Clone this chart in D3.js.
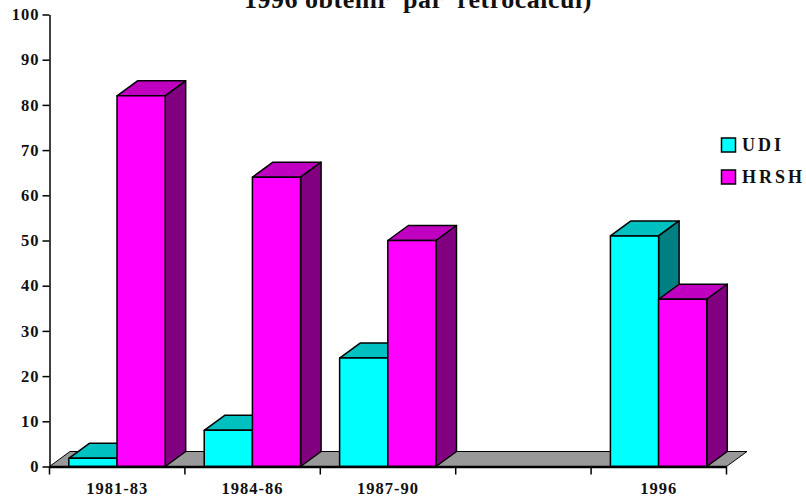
<!DOCTYPE html>
<html>
<head>
<meta charset="utf-8">
<script src="https://cdn.jsdelivr.net/npm/d3@7"></script>
<style>
  html, body { margin: 0; padding: 0; background: #fff; }
  text { font-family: "Liberation Serif", serif; font-weight: bold; fill: #111; }
  .axis path, .axis line { stroke: #000; stroke-width: 1.5; }
  .axis text { font-size: 16.5px; letter-spacing: 1px; font-family: "Liberation Serif", serif; }
</style>
</head>
<body>
<div class="chart"></div>
<script>
var categories = ['1981-83', '1984-86', '1987-90', '', '1996'];
var seriesNames = ['UDI', 'HRSH'];
var udiValues = [1.8, 8, 24, null, 51];
var hrshValues = [82, 64, 50, null, 37];
var yTicks = [0, 10, 20, 30, 40, 50, 60, 70, 80, 90, 100];
var titleText = '1996 obtenir  par  retrocalcul)';

var colors = {
  UDI: {front: '#00ffff', top: '#00c0c0', side: '#008080'},
  HRSH: {front: '#ff00ff', top: '#c000c0', side: '#800080'}
};

var width = 806, height = 501;
var margin = {top: 14.5, left: 49.5, right: 79.5, bottom: 34.5};
var innerW = width - margin.left - margin.right;
var innerH = height - margin.top - margin.bottom;
var depthX = 20.5, depthY = 15;

var svg = d3.select('.chart')
  .append('svg')
    .attr('width', width)
    .attr('height', height)
    .style('display', 'block');

var g = svg.append('g')
  .attr('transform', `translate(${margin.left}, ${margin.top})`);

var xScale = d3.scaleBand()
  .domain(categories)
  .range([0, innerW]);

var inner = d3.scaleBand()
  .domain(seriesNames)
  .range([0, xScale.bandwidth()])
  .paddingInner(0)
  .paddingOuter(0.405)
  .align(0.495);

var yScale = d3.scaleLinear()
  .domain([0, 100])
  .range([innerH, 0]);

var line = d3.line();

// floor
g.append('path')
  .attr('d', line([[0, innerH], [depthX, innerH - depthY], [innerW + depthX, innerH - depthY], [innerW, innerH]]) + 'Z')
  .attr('fill', '#999999')
  .attr('stroke', '#000')
  .attr('stroke-width', 1);

// bars, left to right so the later ones sit over the earlier sides
categories.forEach(function(cat, i) {
  seriesNames.forEach(function(name) {
    var v = (name === 'UDI' ? udiValues : hrshValues)[i];
    if (v === null) return;
    var x0 = xScale(cat) + inner(name);
    var x1 = x0 + inner.bandwidth();
    var y0 = yScale(v);
    var y1 = yScale(0);
    var c = colors[name];
    var bar = g.append('g')
      .attr('stroke', '#000')
      .attr('stroke-width', 1.5)
      .attr('stroke-linejoin', 'round');
    bar.append('path')
      .attr('d', line([[x0, y0], [x0 + depthX, y0 - depthY], [x1 + depthX, y0 - depthY], [x1, y0]]) + 'Z')
      .attr('fill', c.top);
    bar.append('path')
      .attr('d', line([[x1, y0], [x1 + depthX, y0 - depthY], [x1 + depthX, y1 - depthY], [x1, y1]]) + 'Z')
      .attr('fill', c.side);
    bar.append('rect')
      .attr('x', x0)
      .attr('y', y0)
      .attr('width', x1 - x0)
      .attr('height', y1 - y0)
      .attr('fill', c.front);
  });
});

var yAxis = g.append('g')
  .attr('class', 'axis')
  .call(d3.axisLeft(yScale).tickValues(yTicks).tickSize(7).tickPadding(3).tickSizeOuter(0));

var xAxis = g.append('g')
  .attr('class', 'axis')
  .attr('transform', `translate(0, ${innerH})`)
  .call(d3.axisBottom(xScale).tickSize(0).tickPadding(16));

xAxis.select('path').style('stroke-width', 2.5);

// ticks sit between the categories, not on them
xAxis.selectAll('.sep')
  .data(d3.range(categories.length + 1))
  .enter()
  .append('line')
    .attr('class', 'sep')
    .attr('x1', d => d * xScale.step())
    .attr('x2', d => d * xScale.step())
    .attr('y1', 0)
    .attr('y2', 8);

svg.selectAll('.axis text')
  .attr('fill', '#111')
  .style('font-weight', 'bold');

// title is cut off by the top of the picture, same as the original
svg.append('text')
  .attr('x', 418)
  .attr('y', 8)
  .attr('text-anchor', 'middle')
  .style('font-size', '26px')
  .style('letter-spacing', '0.5px')
  .style('white-space', 'pre')
  .text(titleText);

// legend
var legendY = d3.scalePoint().domain(seriesNames).range([145, 177]);

var legend = svg.selectAll('.legend')
  .data(seriesNames)
  .enter()
  .append('g')
    .attr('class', 'legend')
    .attr('transform', d => `translate(721.5, ${legendY(d)})`);

legend.append('rect')
  .attr('x', 0)
  .attr('y', -7)
  .attr('width', 14)
  .attr('height', 14)
  .attr('fill', d => colors[d].front)
  .attr('stroke', '#000')
  .attr('stroke-width', 1.5);

legend.append('text')
  .attr('x', 20.5)
  .attr('y', 6)
  .style('font-size', '18px')
  .style('letter-spacing', '3px')
  .text(d => d);
</script>
</body>
</html>
